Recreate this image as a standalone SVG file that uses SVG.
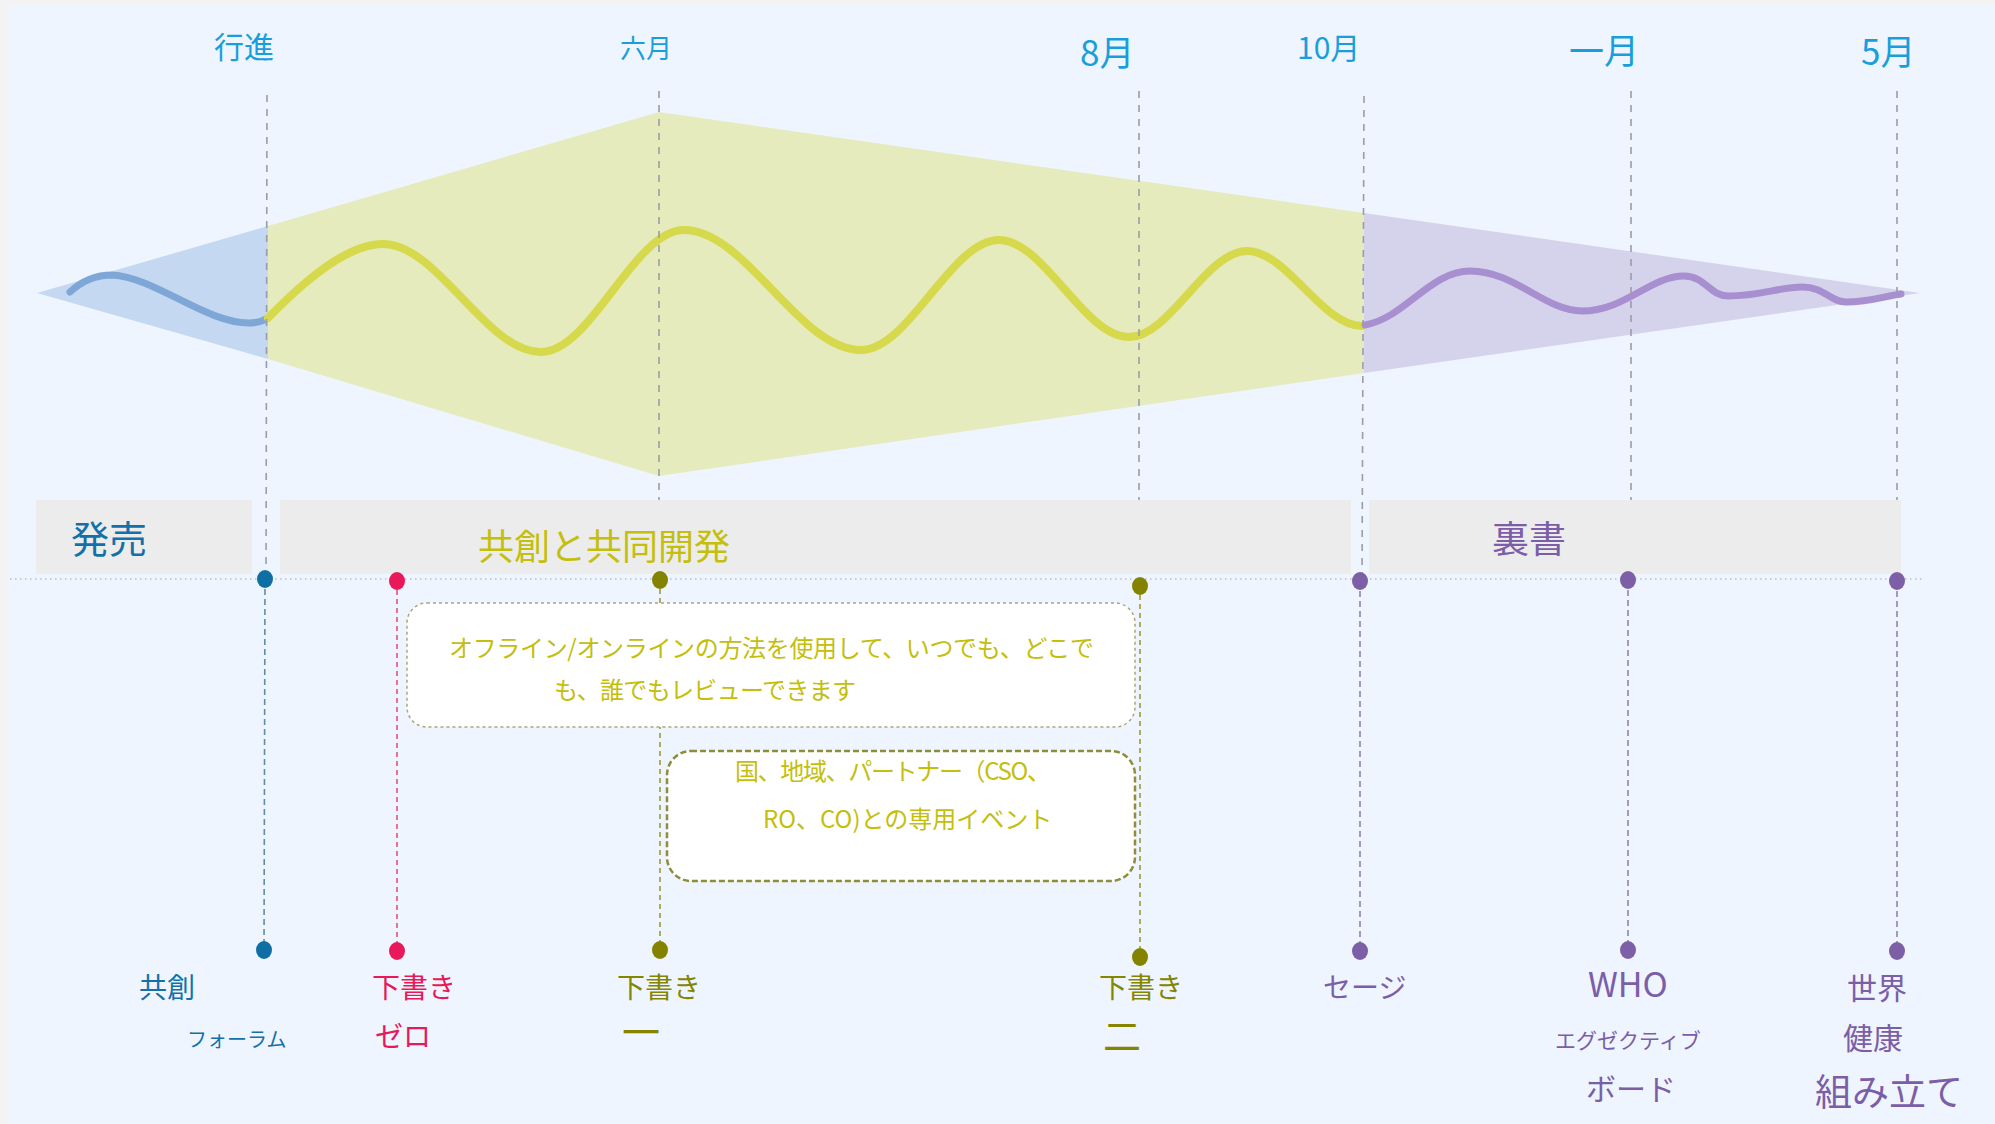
<svg xmlns="http://www.w3.org/2000/svg" width="1995" height="1124" viewBox="0 0 1995 1124">
<style>
text{font-family:"Noto Sans CJK JP","Noto Sans",sans-serif}
.top{fill:#1a9edb}
.blue{fill:#1470a8}
.yel{fill:#c4be0c}
.red{fill:#e8185a}
.olv{fill:#858500}
.pur{fill:#7b5ea7}
.grid{stroke:#9c9ca8;stroke-width:1.6;stroke-dasharray:7 7;fill:none}
.bar{fill:#ececec}
.wave{fill:none;stroke-linecap:round;stroke-linejoin:round}
</style>
<rect x="0" y="0" width="1995" height="1124" fill="#f3f3f3"/>
<rect x="8" y="6" width="1987" height="1118" fill="#eef5fe"/>

<g id="phases">
<polygon points="37,293 268,226 268,359" fill="#c4d8f1"/>
<polygon points="268,226 659,112 1364,213 1364,373 659,476 268,359" fill="#e6ebbd"/>
<polygon points="1364,213 1920,293 1364,373" fill="#d5d3ec"/>
<path class="wave" stroke="#7ea7d7" stroke-width="7" d="M70,292 C84,279 97,275 112,275 C155,277 205,323 249,323 C257,323 263,321 268,318"/>
<path class="wave" stroke="#d6d94c" stroke-width="8" d="M268,318 C300,285 345,244 383,244 C438,244 486,352 541,352 C591,352 634,230 684,230 C746,230 799,350 861,350 C909,350 951,240 999,240 C1044,240 1084,337 1129,337 C1170,337 1206,251 1247,251 C1287,251 1322,326 1362,326"/>
<path class="wave" stroke="#a78fd0" stroke-width="7" d="M1365,325 C1405,318 1430,271 1470,271 C1515,271 1545,311 1582,311 C1625,311 1650,276 1684,276 C1705,276 1710,296 1728,296 C1760,296 1780,287 1802,287 C1825,287 1830,302 1846,302 C1870,302 1885,296 1901,294"/>
</g>

<g id="month-labels">
<text class="top" x="214" y="58" font-size="30">行進</text>
<text class="top" x="620" y="58" font-size="26">六月</text>
<text class="top" x="1080" y="66" font-size="35">8月</text>
<text class="top" x="1297" y="59" font-size="30">10月</text>
<text class="top" x="1569" y="64" font-size="35">一月</text>
<text class="top" x="1861" y="65" font-size="35">5月</text>
</g>

<g id="bars">
<rect class="bar" x="36" y="500" width="216" height="74"/>
<rect class="bar" x="280" y="500" width="1071" height="74"/>
<rect class="bar" x="1369" y="500" width="532" height="74"/>
<text class="blue" x="71" y="553" font-size="38">発売</text>
<text class="yel" x="478" y="560" font-size="36">共創と共同開発</text>
<text class="pur" x="1492" y="553" font-size="37">裏書</text>
</g>

<g id="connectors">
<line class="grid" x1="267" y1="95" x2="266" y2="580"/>
<line class="grid" x1="659" y1="91" x2="659" y2="500"/>
<line class="grid" x1="1139" y1="91" x2="1139" y2="500"/>
<line class="grid" x1="1364" y1="96" x2="1362" y2="580"/>
<line class="grid" x1="1631" y1="91" x2="1631" y2="500"/>
<line class="grid" x1="1897" y1="91" x2="1897" y2="500"/>
<line x1="10" y1="579" x2="1923" y2="579" stroke="#b4c0d2" stroke-width="1.5" stroke-dasharray="1.5 3.5"/>
<line x1="265" y1="579" x2="264" y2="950" stroke="#5f8ca8" stroke-width="1.6" stroke-dasharray="6 4"/>
<line x1="397" y1="581" x2="397" y2="951" stroke="#e0457a" stroke-width="1.5" stroke-dasharray="5 4"/>
<line x1="660" y1="580" x2="660" y2="950" stroke="#9c9c3c" stroke-width="1.6" stroke-dasharray="5 4"/>
<line x1="1140" y1="586" x2="1140" y2="957" stroke="#9c9c3c" stroke-width="1.6" stroke-dasharray="5 4"/>
<line x1="1360" y1="581" x2="1360" y2="951" stroke="#8c86a8" stroke-width="1.6" stroke-dasharray="6 4"/>
<line x1="1628" y1="580" x2="1628" y2="950" stroke="#8c86a8" stroke-width="1.6" stroke-dasharray="6 4"/>
<line x1="1897" y1="581" x2="1897" y2="951" stroke="#8c86a8" stroke-width="1.6" stroke-dasharray="6 4"/>
</g>

<g id="dots">
<ellipse cx="265" cy="579" rx="8" ry="9" fill="#0f6fa3"/>
<ellipse cx="397" cy="581" rx="8" ry="9" fill="#e8185a"/>
<ellipse cx="660" cy="580" rx="8" ry="9" fill="#838300"/>
<ellipse cx="1140" cy="586" rx="8" ry="9" fill="#838300"/>
<ellipse cx="1360" cy="581" rx="8" ry="9" fill="#7d5fa8"/>
<ellipse cx="1628" cy="580" rx="8" ry="9" fill="#7d5fa8"/>
<ellipse cx="1897" cy="581" rx="8" ry="9" fill="#7d5fa8"/>
<ellipse cx="264" cy="950" rx="8" ry="9" fill="#0f6fa3"/>
<ellipse cx="397" cy="951" rx="8" ry="9" fill="#e8185a"/>
<ellipse cx="660" cy="950" rx="8" ry="9" fill="#838300"/>
<ellipse cx="1140" cy="957" rx="8" ry="9" fill="#838300"/>
<ellipse cx="1360" cy="951" rx="8" ry="9" fill="#7d5fa8"/>
<ellipse cx="1628" cy="950" rx="8" ry="9" fill="#7d5fa8"/>
<ellipse cx="1897" cy="951" rx="8" ry="9" fill="#7d5fa8"/>
</g>

<g id="box-review">
<rect x="407" y="603" width="728" height="124" rx="20" fill="#ffffff" stroke="#a8a878" stroke-width="1.5" stroke-dasharray="3 3"/>
<text class="yel" x="449" y="657" font-size="24" textLength="645" lengthAdjust="spacing">オフライン/オンラインの方法を使用して、いつでも、どこで</text>
<text class="yel" x="554" y="699" font-size="24" textLength="302" lengthAdjust="spacing">も、誰でもレビューできます</text>
</g>

<g id="box-events">
<rect x="667" y="751" width="468" height="130" rx="24" fill="#ffffff" stroke="#8d8d3c" stroke-width="2.5" stroke-dasharray="6 3"/>
<text class="yel" x="735" y="780" font-size="24" textLength="316" lengthAdjust="spacing">国、地域、パートナー（CSO、</text>
<text class="yel" x="763" y="828" font-size="24">RO、CO)との専用イベント</text>
</g>

<g id="node-forum">
<text class="blue" x="139" y="998" font-size="28">共創</text>
<text class="blue" x="187" y="1047" font-size="20">フォーラム</text>
</g>
<g id="node-draft0">
<text class="red" x="372" y="998" font-size="28">下書き</text>
<text class="red" x="375" y="1047" font-size="28">ゼロ</text>
</g>
<g id="node-draft1">
<text class="olv" x="617" y="998" font-size="28">下書き</text>
<text class="olv" x="622" y="1046" font-size="38">一</text>
</g>
<g id="node-draft2">
<text class="olv" x="1099" y="998" font-size="28">下書き</text>
<text class="olv" x="1103" y="1050" font-size="38">二</text>
</g>
<g id="node-sage">
<text class="pur" x="1323" y="998" font-size="28">セージ</text>
</g>
<g id="node-who">
<text class="pur" x="1588" y="997" font-size="34">WHO</text>
<text class="pur" x="1555" y="1048" font-size="21">エグゼクティブ</text>
<text class="pur" x="1586" y="1100" font-size="30">ボード</text>
</g>
<g id="node-wha">
<text class="pur" x="1847" y="999" font-size="30">世界</text>
<text class="pur" x="1843" y="1049" font-size="30">健康</text>
<text class="pur" x="1815" y="1106" font-size="37">組み立て</text>
</g>
</svg>
